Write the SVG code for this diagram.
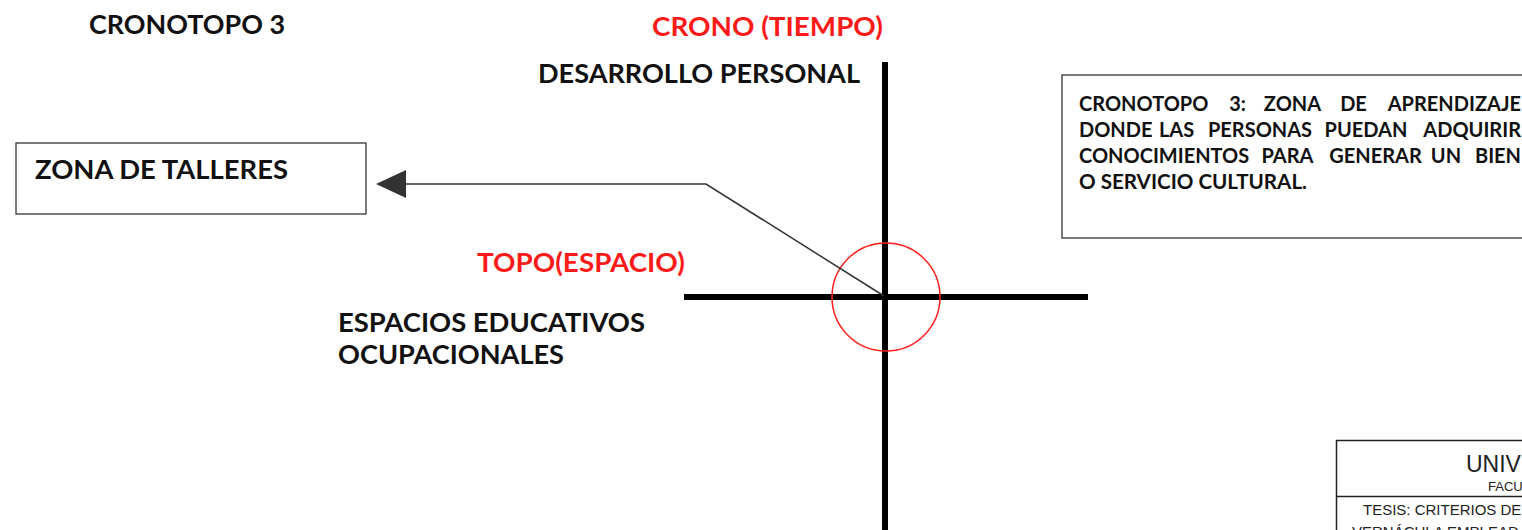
<svg xmlns="http://www.w3.org/2000/svg" width="1522" height="530" viewBox="0 0 1522 530">
<style>
.b{font-family:Lato,"Open Sans","Liberation Sans",sans-serif;font-weight:700;fill:#111}
.r{font-family:Lato,"Open Sans","Liberation Sans",sans-serif;font-weight:700;fill:#ff1a1a}
.a{font-family:"Liberation Sans",Arial,sans-serif;fill:#222}
.box{fill:#fff;stroke:#333;stroke-width:1.3}
.axis{stroke:#000;stroke-width:6}
.s{text-anchor:start}
.m{text-anchor:middle}
.e{text-anchor:end}
</style>
<defs>
<marker id="tri" markerWidth="32" markerHeight="30" refX="0" refY="15" orient="auto" markerUnits="userSpaceOnUse">
<path d="M0,1 L30,15 L0,29 Z" fill="#333"/>
</marker>
</defs>
<rect width="1522" height="530" fill="#fff"/>
<g id="title"><text class="b" x="89" y="34" font-size="26" textLength="196" lengthAdjust="spacingAndGlyphs">CRONOTOPO 3</text></g>
<g id="axes">
<line class="axis" x1="885" y1="62" x2="885" y2="530"/>
<line class="axis" x1="684" y1="297" x2="1088" y2="297"/>
<circle cx="886" cy="297" r="54" fill="none" stroke="#ff2020" stroke-width="1.5"/>
</g>
<g id="crono"><text class="r" x="652" y="36" font-size="26" textLength="231" lengthAdjust="spacingAndGlyphs">CRONO (TIEMPO)</text></g>
<g id="desarrollo"><text class="b" x="538" y="83" font-size="26" textLength="322" lengthAdjust="spacingAndGlyphs">DESARROLLO PERSONAL</text></g>
<g id="topo"><text class="r" x="477" y="272" font-size="26" textLength="208" lengthAdjust="spacingAndGlyphs">TOPO(ESPACIO)</text></g>
<g id="espacios">
<text class="b" x="338" y="332" font-size="26" textLength="307" lengthAdjust="spacingAndGlyphs">ESPACIOS EDUCATIVOS</text>
<text class="b" x="338" y="364" font-size="26" textLength="226" lengthAdjust="spacingAndGlyphs">OCUPACIONALES</text>
</g>
<g id="zona-talleres">
<rect class="box" x="16" y="143" width="350" height="71"/>
<text class="b" x="35" y="179" font-size="26" textLength="253" lengthAdjust="spacingAndGlyphs">ZONA DE TALLERES</text>
</g>
<g id="connectors">
<polyline points="884,296 706,184 406,184" fill="none" stroke="#333" stroke-width="1.5" marker-end="url(#tri)"/>
</g>
<g id="descripcion">
<rect class="box" x="1062" y="75" width="470" height="163"/>
<text class="b" y="111" font-size="20"><tspan class="s" x="1079">CRONOTOPO</tspan><tspan class="m" x="1237.5">3:</tspan><tspan class="m" x="1292.5">ZONA</tspan><tspan class="m" x="1353.5">DE</tspan><tspan class="e" x="1521">APRENDIZAJE</tspan></text>
<text class="b" y="137" font-size="20"><tspan class="s" x="1079">DONDE</tspan><tspan class="m" x="1176.5">LAS</tspan><tspan class="m" x="1260">PERSONAS</tspan><tspan class="m" x="1366">PUEDAN</tspan><tspan class="e" x="1521">ADQUIRIR</tspan></text>
<text class="b" y="163" font-size="20"><tspan class="s" x="1079">CONOCIMIENTOS</tspan><tspan class="m" x="1287.5">PARA</tspan><tspan class="m" x="1375.5">GENERAR</tspan><tspan class="m" x="1446">UN</tspan><tspan class="e" x="1521">BIEN</tspan></text>
<text class="b" x="1079" y="189" font-size="20" textLength="228" lengthAdjust="spacingAndGlyphs">O SERVICIO CULTURAL.</text>
</g>
<g id="rotulo">
<rect x="1336.5" y="440.5" width="200" height="100" fill="#fff" stroke="#222" stroke-width="1.5"/>
<line x1="1337" y1="496.5" x2="1522" y2="496.5" stroke="#222" stroke-width="1.5"/>
<text class="a" x="1466" y="472" font-size="23">UNIV</text>
<text class="a" x="1488" y="491" font-size="13">FACU</text>
<text class="a" x="1363" y="515" font-size="15">TESIS: CRITERIOS DE</text>
<text class="a" x="1352" y="537" font-size="15">VERNÁCULA EMPLEAD</text>
</g>
</svg>
